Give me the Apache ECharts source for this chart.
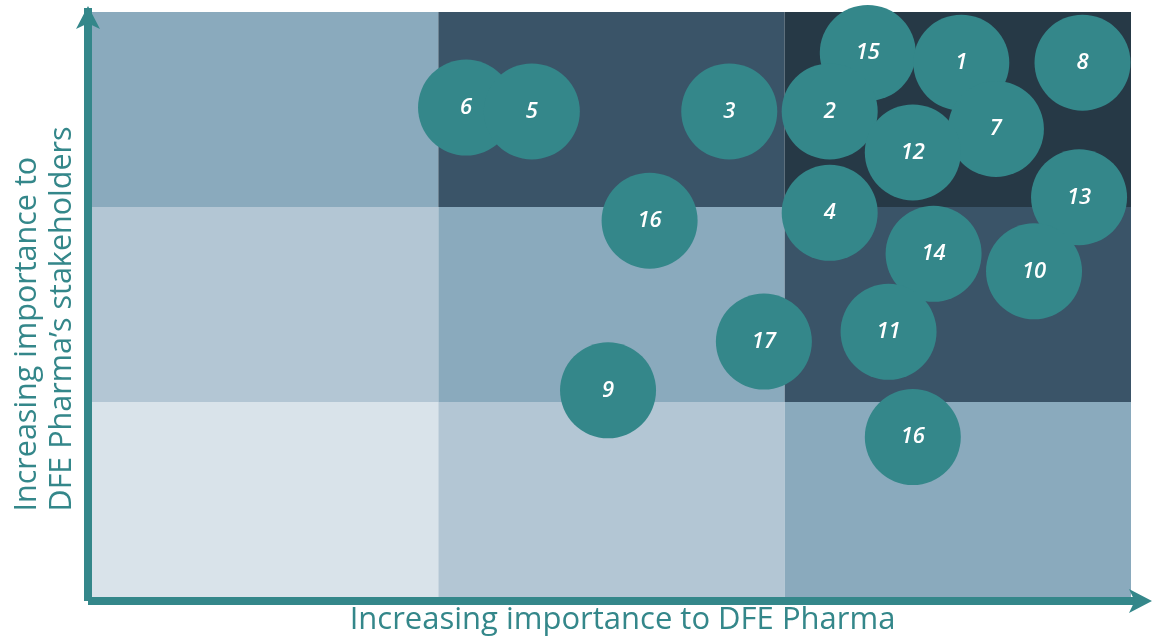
<!DOCTYPE html>
<html><head><meta charset="utf-8">
<script src="https://cdn.jsdelivr.net/npm/echarts@6/dist/echarts.min.js"></script>
<style>html,body{margin:0;padding:0;background:#fff}#c{width:1157px;height:638px}</style>
</head><body><div id="c"></div>
<script>
// Bubble labels and positions (x: importance to DFE Pharma, y: importance to stakeholders, both on 0–3 scale)
const labels  = ['15','1','8','2','7','12','13','4','6','5','3','16','14','10','17','11','9','16'];
const xValues = [2.24,2.51,2.86,2.13,2.61,2.37,2.85,2.13,1.08,1.27,1.84,1.61,2.43,2.72,1.94,2.30,1.49,2.37];
const yValues = [2.79,2.74,2.74,2.49,2.40,2.28,2.05,1.97,2.51,2.49,2.49,1.93,1.76,1.67,1.31,1.36,1.06,0.82];

// Background matrix cells: column index, row index (0 = bottom), colour
const cellCols   = [0,1,2, 0,1,2, 0,1,2];
const cellRows   = [0,0,0, 1,1,1, 2,2,2];
const cellColors = ['#d9e3ea','#b3c6d4','#8aaabd',
                    '#b3c6d4','#8aaabd','#3a5468',
                    '#8aaabd','#3a5468','#263946'];

const xName = 'Increasing importance to DFE Pharma';
const yNameLines = ['Increasing importance to', 'DFE Pharma\u2019s stakeholders'];

const teal = '#34878a';
const fontFam = '"Open Sans", "Noto Sans", sans-serif';

const chart = echarts.init(document.getElementById('c'), null, {renderer:'canvas'});
chart.setOption({
  animation:false,
  grid:{left:92, right:26, top:12, bottom:41, containLabel:false, outerBoundsMode:'none'},
  xAxis:{type:'value', min:0, max:3, interval:1, offset:4, z:5,
    axisLine:{show:true, onZero:false, lineStyle:{color:teal, width:8, cap:'square'},
      symbol:['none','arrow'], symbolSize:[18,23], symbolOffset:[0,21]},
    axisTick:{show:false}, axisLabel:{show:false}, splitLine:{show:false},
    name:xName, nameLocation:'middle', nameGap:4,
    nameTextStyle:{color:teal, fontSize:31, fontFamily:fontFam, verticalAlign:'top', padding:[0,0,0,22]}
  },
  yAxis:{type:'value', min:0, max:3, interval:1, offset:4, z:5,
    axisLine:{show:true, onZero:false, lineStyle:{color:teal, width:8, cap:'square'},
      symbol:['none','arrow'], symbolSize:[18,23], symbolOffset:[0,6]},
    axisTick:{show:false}, axisLabel:{show:false}, splitLine:{show:false},
    name:yNameLines.map(s=>'{a|'+s+'}').join('\n'), nameLocation:'middle', nameRotate:90, nameGap:8,
    nameTextStyle:{color:teal, fontSize:30.5, lineHeight:35, fontFamily:fontFam, align:'center', verticalAlign:'bottom',
      rich:{a:{width:414, align:'left', color:teal, fontSize:30.5, lineHeight:35, fontFamily:fontFam}}}
  },
  series:[
    {type:'custom', z:1, silent:true,
      data: cellCols.map((c,i)=>({value:[c, cellRows[i]], itemStyle:{color:cellColors[i]}})),
      renderItem:function(params, api){
        const c = api.value(0), r = api.value(1);
        const p0 = api.coord([c, r+1]);
        const p1 = api.coord([c+1, r]);
        return {type:'rect', shape:{x:p0[0], y:p0[1], width:p1[0]-p0[0], height:p1[1]-p0[1]},
                style:{fill:api.visual('color')}};
      }
    },
    {type:'scatter', z:3, silent:true, symbol:'circle', symbolSize:96,
      itemStyle:{color:teal, opacity:1},
      label:{show:true, position:'inside', formatter:p=>p.name, color:'#ffffff',
        fontSize:22, fontStyle:'italic', fontWeight:600, fontFamily:fontFam},
      data: labels.map((l,i)=>({name:l, value:[xValues[i], yValues[i]]}))
    }
  ]
});
</script></body></html>
